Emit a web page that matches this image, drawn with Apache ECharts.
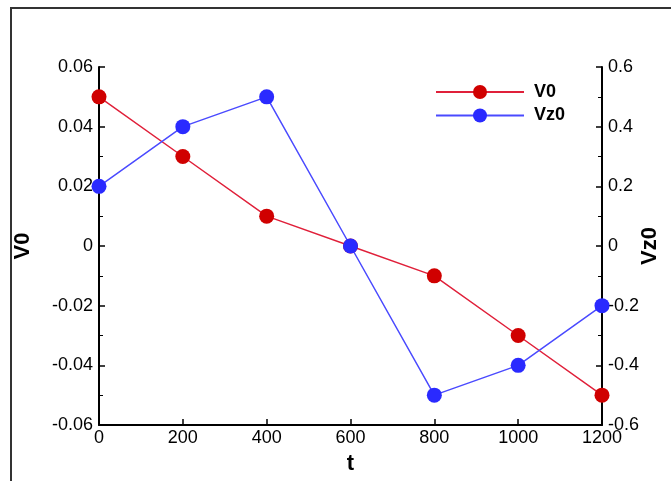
<!DOCTYPE html>
<html>
<head>
<meta charset="utf-8">
<script src="https://cdn.jsdelivr.net/npm/echarts@6/dist/echarts.min.js"></script>
<style>
html,body{margin:0;padding:0;background:#fff;}
#chart{width:671px;height:481px;}
</style>
</head>
<body>
<div id="chart"></div>
<script>
const tValues = [0, 200, 400, 600, 800, 1000, 1200];
const v0Values = [0.05, 0.03, 0.01, 0, -0.01, -0.03, -0.05];
const vz0Values = [0.2, 0.4, 0.5, 0, -0.5, -0.4, -0.2];
const seriesNames = ['V0', 'Vz0'];

const font = 'Liberation Sans, Arial, sans-serif';
const chart = echarts.init(document.getElementById('chart'), null, {renderer: 'canvas'});

const axisCommon = {
  axisLine: {show: true, onZero: false, lineStyle: {color: '#000', width: 2}},
  axisTick: {show: true, inside: true, length: 6, lineStyle: {color: '#000', width: 1.5}},
  splitLine: {show: false},
  axisLabel: {color: '#000', fontFamily: font, fontSize: 18, formatter: v => String(v)}
};

chart.setOption({
  backgroundColor: '#fff',
  animation: false,
  graphic: [{
    type: 'rect',
    shape: {x: 11, y: 8, width: 720, height: 520},
    style: {fill: 'none', stroke: '#333', lineWidth: 2},
    silent: true
  }],
  grid: {left: 99, right: 69, top: 67, bottom: 56, outerBoundsMode: 'none', containLabel: false},
  legend: {
    orient: 'vertical',
    left: 430,
    top: 78,
    itemWidth: 88,
    itemHeight: 17.5,
    itemGap: 5.5,
    data: seriesNames,
    textStyle: {fontFamily: font, fontSize: 18, fontWeight: 'bold', color: '#000', padding: [0, 0, 0, 5]}
  },
  xAxis: Object.assign({}, axisCommon, {
    type: 'value',
    min: 0, max: 1200, interval: 200,
    name: 't',
    nameLocation: 'middle',
    nameGap: 28,
    nameTextStyle: {fontFamily: font, fontSize: 22, fontWeight: 'bold', color: '#000'},
    axisLabel: Object.assign({}, axisCommon.axisLabel, {margin: 4})
  }),
  yAxis: [
    Object.assign({}, axisCommon, {
      type: 'value',
      position: 'left',
      min: -0.06, max: 0.06, interval: 0.02,
      name: 'V0',
      nameLocation: 'middle',
      nameRotate: 90,
      nameGap: 65,
      nameTextStyle: {fontFamily: font, fontSize: 22, fontWeight: 'bold', color: '#000'},
      minorTick: {show: true, splitNumber: 2, length: 4, lineStyle: {color: '#000', width: 1}},
      axisLabel: Object.assign({}, axisCommon.axisLabel, {margin: 6})
    }),
    Object.assign({}, axisCommon, {
      type: 'value',
      position: 'right',
      min: -0.6, max: 0.6, interval: 0.2,
      name: 'Vz0',
      nameLocation: 'middle',
      nameRotate: 90,
      nameGap: 37,
      nameMoveOverlap: false,
      nameTextStyle: {fontFamily: font, fontSize: 22, fontWeight: 'bold', color: '#000'},
      minorTick: {show: true, splitNumber: 2, length: 4, lineStyle: {color: '#000', width: 1}},
      axisLabel: Object.assign({}, axisCommon.axisLabel, {margin: 6})
    })
  ],
  series: [
    {
      name: seriesNames[0],
      type: 'line',
      yAxisIndex: 0,
      data: tValues.map((t, i) => [t, v0Values[i]]),
      symbol: 'circle',
      symbolSize: 15,
      lineStyle: {color: '#e0203a', width: 1.5},
      itemStyle: {color: '#d00000'},
      z: 3
    },
    {
      name: seriesNames[1],
      type: 'line',
      yAxisIndex: 1,
      data: tValues.map((t, i) => [t, vz0Values[i]]),
      symbol: 'circle',
      symbolSize: 15,
      lineStyle: {color: '#4a4aff', width: 1.5},
      itemStyle: {color: '#2a2aff'},
      z: 4
    }
  ]
});
</script>
</body>
</html>
